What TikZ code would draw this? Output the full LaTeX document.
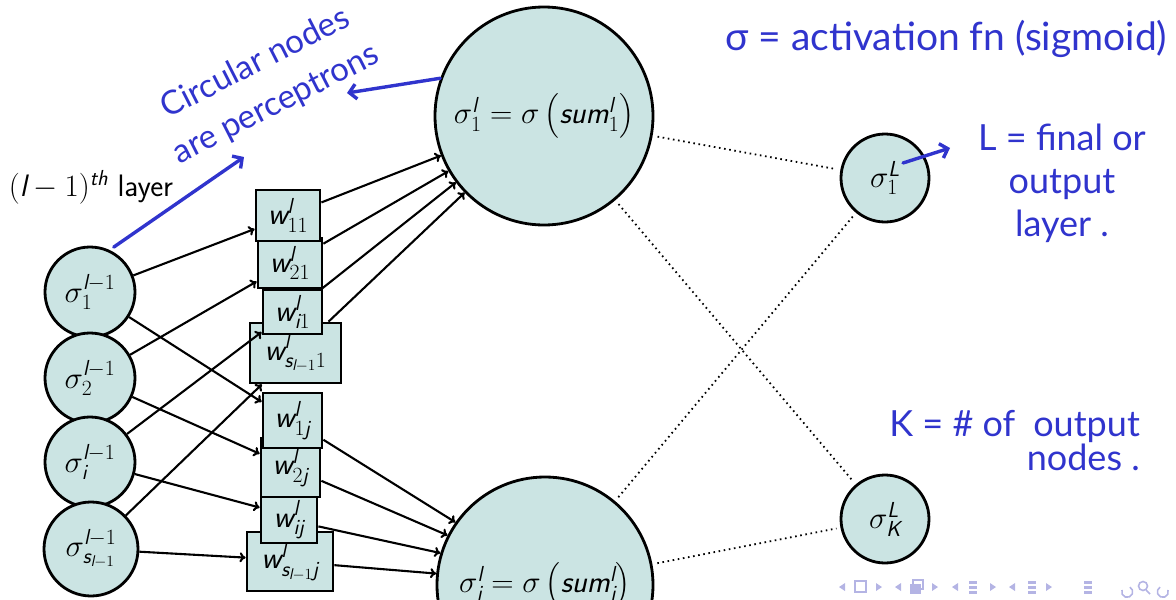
\RequirePackage{fix-cm}
\documentclass[tikz,border=0pt]{standalone}
\usepackage{amsmath}
\usepackage{fontspec}
\usetikzlibrary{arrows.meta,calc}

\newfontfamily\handfont{Lato}
\definecolor{cellfill}{RGB}{203,228,227}
\definecolor{ink}{RGB}{48,52,205}
\definecolor{navgray}{RGB}{180,180,228}
% sans italic letters inside math, as in the slide theme
\newcommand\mv[1]{\text{\sffamily\itshape #1}}

\begin{document}
\begin{tikzpicture}[x=1pt,y=-1pt,
  every node/.style={font=\fontsize{31}{37}\selectfont},
  unit/.style={circle, draw, line width=2.8pt, fill=cellfill, inner sep=0pt},
  wbox/.style={rectangle, draw, line width=2.8pt, fill=cellfill, inner sep=0pt},
  link/.style={line width=2.1pt, -{To[length=6pt,width=10pt]}},
  faint/.style={line width=1.8pt, dash pattern=on 1.6pt off 3.6pt, shorten <=5pt, shorten >=4pt},
  hand/.style={ink, inner sep=0pt},
  handarrow/.style={ink, line width=3.4pt, line cap=round, -{Straight Barb[length=7pt,width=15pt]}}
]
\useasboundingbox (0,0) rectangle (1176,600);
\clip (0,0) rectangle (1176,600);

% previous layer
\node[unit, minimum size=90pt] (s1) at (90,292) {$\sigma^{\mv{l}-1}_{1}$};
\node[unit, minimum size=90pt] (s2) at (90,378) {$\sigma^{\mv{l}-1}_{2}$};
\node[unit, minimum size=90pt] (si) at (90,462) {$\sigma^{\mv{l}-1}_{\mv{i}}$};
\node[unit, minimum size=94pt] (ss) at (91,549) {$\sigma^{\mv{l}-1}_{\mv{s}_{\mv{l}-1}}$};

\node (lay) at (91,187) {$(\mv{l}-1)^{\mv{th}}$ \textsf{layer}};

% weights, drawn bottom-up so that upper boxes overlap lower ones
\node[wbox, minimum width=86pt, minimum height=59pt] (wsj) at (290,561.5) {$\mv{w}^{\mv{l}}_{\mv{s}_{\mv{l}-1}\mv{j}}$};
\node[wbox, minimum width=56pt, minimum height=46pt] (wij) at (289,520) {$\mv{w}^{\mv{l}}_{\mv{ij}}$};
\node[wbox, minimum width=59pt, minimum height=59pt] (w2j) at (290.5,467.5) {$\mv{w}^{\mv{l}}_{2\mv{j}}$};
\node[wbox, minimum width=59pt, minimum height=55pt] (w1j) at (292.5,420.5) {$\mv{w}^{\mv{l}}_{1\mv{j}}$};
\node[wbox, minimum width=91pt, minimum height=60pt] (ws1) at (295.5,353) {$\mv{w}^{\mv{l}}_{\mv{s}_{\mv{l}-1}1}$};
\node[wbox, minimum width=59pt, minimum height=44pt] (wi1) at (292.5,312) {$\mv{w}^{\mv{l}}_{\mv{i}1}$};
\node[wbox, minimum width=64pt, minimum height=50pt] (w21) at (290,263) {$\mv{w}^{\mv{l}}_{21}$};
\node[wbox, minimum width=64pt, minimum height=51pt] (w11) at (288,215.5) {$\mv{w}^{\mv{l}}_{11}$};

% current layer
\node[unit, minimum size=218pt] (c1) at (544,116) {$\sigma^{\mv{l}}_{1} = \sigma\left(\mv{sum}^{\mv{l}}_{1}\right)$};
\node[unit, minimum size=216pt] (c2) at (545,585) {$\sigma^{\mv{l}}_{\mv{j}} = \sigma\left(\mv{sum}^{\mv{l}}_{\mv{j}}\right)$};

% output layer
\node[unit, minimum size=88pt] (o1) at (885,178) {$\sigma^{\mv{L}}_{1}$};
\node[unit, minimum size=88pt] (oK) at (885,519) {$\sigma^{\mv{L}}_{\mv{K}}$};

% inputs into the weights
\draw[link] (s1) -- (w11.202);
\draw[link] (s2) -- (w21.209);
\draw[link] (si) -- (wi1.213);
\draw[link] (ss) -- (ws1.223);
\draw[link] (s1) -- (w1j.149);
\draw[link] (s2) -- (w2j.156);
\draw[link] (si) -- (wij.157);
\draw[link] (ss) -- (wsj.175);

% weighted inputs into the perceptrons
\draw[link] (w11) -- (c1.201);
\draw[link] (w21) -- (c1.210);
\draw[link] (wi1) -- (c1.217);
\draw[link] (ws1) -- (c1.224);
\draw[link] (w1j) -- (c2.145);
\draw[link] (w2j) -- (c2.153);
\draw[link] (wij) -- (c2.163);
\draw[link] (wsj) -- (c2.174);

% elided connections to the output layer
\draw[faint] (c1) -- (o1);
\draw[faint] (c1) -- (oK);
\draw[faint] (c2) -- (o1);
\draw[faint] (c2) -- (oK);

% handwritten notes
\node[hand, rotate=27, align=center, font=\handfont\fontsize{33}{46}\selectfont] (note1) at (266,84) {Circular nodes\\are perceptrons};
\node[hand, anchor=base west, font=\handfont\fontsize{39}{44}\selectfont] (note2) at (725,50) {σ = activation fn (sigmoid)};
\node[hand, anchor=north, align=center, font=\handfont\fontsize{36}{43}\selectfont] (note3) at (1062,124) {L = final or\\output\\layer .};
\node[hand, anchor=north east, align=right, font=\handfont\fontsize{36}{28}\selectfont] (note4) at (1140,410) {K = \# of\enspace output\\nodes .};

\coordinate (tipA) at (244,157);
\coordinate (tipB) at (347,93);
\coordinate (tailC) at ($(o1.center)+(18,-15)$);
\coordinate (tipC) at (950,148);
\draw[handarrow, shorten <=5pt] (s1.65) -- (tipA);
\draw[handarrow] (c1.160) -- (tipB);
\draw[handarrow] (tailC) -- (tipC);

% navigation bar
\begin{scope}[navgray]
  \foreach \x in {842,898,955,1012} \fill (\x-3,587) -- (\x+3,583) -- (\x+3,591) -- cycle;
  \foreach \x in {879,935,993,1049} \fill (\x+3,587) -- (\x-3,583) -- (\x-3,591) -- cycle;
  \draw[line width=1.6pt] (855,581) rectangle (866,592);
  \fill (910,584) rectangle (921,594);
  \draw[line width=1.4pt] (913,580) rectangle (923,589);
  \foreach \x in {973,1032,1088} {
    \fill (\x-4,581) rectangle (\x+4,584);
    \fill (\x-4,586) rectangle (\x+4,589);
    \fill (\x-4,591) rectangle (\x+4,594);
  }
  \draw[line width=1.6pt] (1122,590) arc (200:-60:5.5);
  \draw[line width=1.6pt] (1143,586) circle (4.5);
  \draw[line width=1.6pt] (1146,590) -- (1150,594);
  \draw[line width=1.6pt] (1168,590) arc (-20:240:5.5);
\end{scope}
\end{tikzpicture}
\end{document}
